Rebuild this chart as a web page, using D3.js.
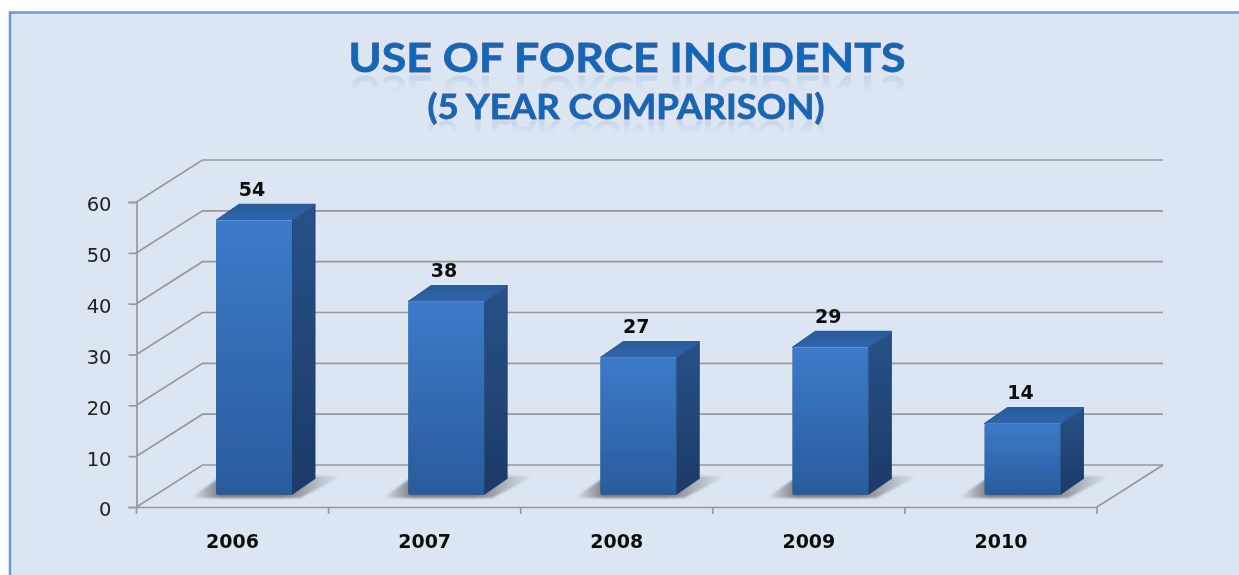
<!DOCTYPE html>
<html><head><meta charset="utf-8">
<script src="https://cdn.jsdelivr.net/npm/d3@7/dist/d3.min.js"></script>
<style>
html,body{margin:0;padding:0;background:#fff;overflow:hidden}
svg{display:block}
.ytick{font-family:"DejaVu Sans",sans-serif;font-size:19.5px;fill:#222}
.xtick,.val{font-family:"DejaVu Sans",sans-serif;font-weight:700;font-size:19px;fill:#111}
.title{position:absolute;left:0;width:1239px;text-align:center;font-family:Lato,sans-serif;font-weight:700;
  color:#0a6abf;-webkit-text-stroke:.8px #8a4a5c;paint-order:stroke fill;white-space:nowrap;filter:blur(.4px);
  -webkit-box-reflect:below -14px linear-gradient(to bottom,rgba(255,255,255,0) 50%,rgba(255,255,255,.2) 100%);}
</style></head><body>
<svg id="c" width="1239" height="575"></svg>
<script>
const years=["2006","2007","2008","2009","2010"];
const incidents=[54,38,27,29,14];
const yTicks=[0,10,20,30,40,50,60];
const titleLines=["USE OF FORCE INCIDENTS","(5 YEAR COMPARISON)"];

const W=1239,H=575;
const wallDx=66,wallDy=-42,barDx=23,barDy=-16,barLift=12,barW=76,barInset=79.5;
const svg=d3.select("#c");
const defs=svg.append("defs");

function grad(id,stops,vertical=true){
  const g=defs.append("linearGradient").attr("id",id).attr("x1",0).attr("y1",0).attr("x2",vertical?0:1).attr("y2",vertical?1:0);
  stops.forEach(s=>{const t=g.append("stop").attr("offset",s[0]).attr("stop-color",s[1]);if(s[2]!=null)t.attr("stop-opacity",s[2]);});
}
grad("front",[[0,"#3c7ac9"],[1,"#2a5b9c"]]);
grad("side",[[0,"#275288"],[1,"#1c3a66"]]);
grad("top",[[0,"#2a5b9b"],[1,"#2f66ad"]]);
grad("sh",[[0,"#555",0],[.2,"#555",.7],[.6,"#555",.7],[1,"#555",0]],false);
defs.append("filter").attr("id","soft").append("feGaussianBlur").attr("stdDeviation",.45);
defs.append("filter").attr("id","shadowBlur").attr("x","-20%").attr("width","140%").append("feGaussianBlur").attr("stdDeviation",1.2);

// panel
svg.append("rect").attr("width",W).attr("height",H).attr("fill","#fff");
svg.append("rect").attr("x",10).attr("y",12.5).attr("width",W+20).attr("height",H).attr("fill","#dce6f2").attr("stroke","#6d97d8").attr("stroke-width",2.5);

const x=d3.scaleBand().domain(years).range([136.5,1097]);
const y=d3.scaleLinear().domain([0,60]).range([507,202]);
const gridC="#999";

// gridlines: side wall + back wall
const grid=svg.append("g").attr("fill","none").attr("stroke",gridC).attr("stroke-width",1.7).attr("filter","url(#soft)");
grid.selectAll("path.g").data(yTicks).join("path").attr("class","g")
  .attr("d",t=>d3.line()([[x.range()[0],y(t)],[x.range()[0]+wallDx,y(t)+wallDy],[x.range()[1]+wallDx,y(t)+wallDy]]));
grid.append("path").attr("d",d3.line()([[x.range()[1],y(0)],[x.range()[1]+wallDx,y(0)+wallDy]]));

// axes
const axL=svg.append("g").attr("transform",`translate(${x.range()[0]},0)`).attr("filter","url(#soft)")
  .call(d3.axisLeft(y).tickValues(yTicks).tickSize(8).tickPadding(17).tickFormat(d3.format("d")));
axL.selectAll("path,line").attr("stroke",gridC).attr("stroke-width",1.7);
axL.selectAll("text").attr("class","ytick").attr("dy","0.46em");
const axB=svg.append("g").attr("transform",`translate(0,${y(0)})`).attr("filter","url(#soft)")
  .call(d3.axisBottom(x).tickSize(0).tickPadding(28));
axB.selectAll("path").attr("stroke",gridC).attr("stroke-width",1.7);
axB.selectAll("text").attr("class","xtick");
axB.selectAll("line.edge").data(x.domain().concat("start")).join("line").attr("class","edge")
  .attr("x1",d=>d==="start"?x.range()[0]:x(d)+x.bandwidth()).attr("x2",d=>d==="start"?x.range()[0]:x(d)+x.bandwidth())
  .attr("y1",0).attr("y2",7).attr("stroke",gridC).attr("stroke-width",1.7);

// bars
const bars=svg.append("g").selectAll("g").data(years.map((yr,i)=>({yr,v:incidents[i]}))).join("g")
  .attr("transform",d=>`translate(${x(d.yr)+barInset},0)`);
const base=y(0)-barLift;
// floor shadow
bars.append("path").attr("filter","url(#shadowBlur)").attr("fill","url(#sh)")
  .attr("d",d3.line()([[-26,base+3],[6,base-19],[126,base-19],[84,base+3]]));
const g3=bars.append("g").attr("filter","url(#soft)");
g3.append("path").attr("fill","url(#side)").attr("stroke","#1f4272").attr("stroke-width",1).attr("stroke-linejoin","round")
  .attr("d",d=>d3.line()([[barW,base],[barW,y(d.v)-barLift],[barW+barDx,y(d.v)-barLift+barDy],[barW+barDx,base+barDy]]));
g3.append("path").attr("fill","url(#top)").attr("stroke","#2a5b9b").attr("stroke-width",1.5).attr("stroke-linejoin","round")
  .attr("d",d=>d3.line()([[0,y(d.v)-barLift],[barDx,y(d.v)-barLift+barDy],[barW+barDx,y(d.v)-barLift+barDy],[barW,y(d.v)-barLift]]));
g3.append("rect").attr("x",0).attr("width",barW).attr("rx",2).attr("y",d=>y(d.v)-barLift).attr("height",d=>base-y(d.v)+barLift).attr("fill","url(#front)");
bars.append("text").attr("class","val").attr("filter","url(#soft)").attr("x",barW/2-2).attr("y",d=>y(d.v)-barLift-25).attr("text-anchor","middle").text(d=>d.v);

// title: reflection handled by CSS box-reflect so the words stay single real text
const sizes=[41,34],tops=[32,86],stretch=[1.09,1.075],cx=[627,626];
d3.select("body").selectAll("div.title").data(titleLines).join("div").attr("class","title")
  .style("top",(d,i)=>tops[i]+"px").style("font-size",(d,i)=>sizes[i]+"px").style("line-height",(d,i)=>sizes[i]*1.2+"px")
  .style("transform",(d,i)=>`translateX(${cx[i]-619.5}px) scaleX(${stretch[i]})`).text(d=>d);
</script></body></html>
